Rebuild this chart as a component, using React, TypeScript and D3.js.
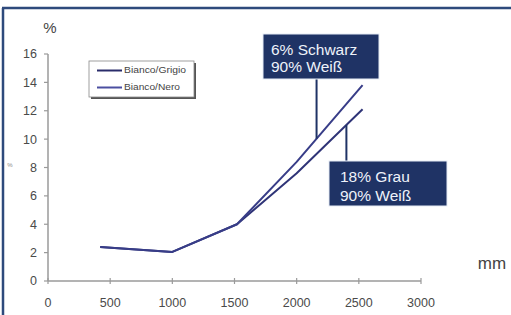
import React from "react";
import * as d3 from "d3";

const xTicks = [0, 500, 1000, 1500, 2000, 2500, 3000];
const yTicks = [0, 2, 4, 6, 8, 10, 12, 14, 16];
const xValues = [420, 1000, 1520, 2000, 2530];
const grigio = [2.4, 2.05, 4.0, 7.6, 12.1];
const nero = [2.4, 2.05, 4.0, 8.4, 13.8];
const seriesNames = ["Bianco/Grigio", "Bianco/Nero"];
const annoTop = ["6% Schwarz", "90% Weiß"];
const annoBottom = ["18% Grau", "90% Weiß"];
const annoTopAnchor = { x: 2160 };
const annoBottomAnchor = { x: 2400 };

const W = 511;
const H = 315;

export default function App() {
  const x = d3.scaleLinear().domain([0, 3000]).range([48, 421]);
  const y = d3.scaleLinear().domain([0, 16]).range([281, 54]);
  const line = d3
    .line<number>()
    .x((_, i) => x(xValues[i]))
    .y((d) => y(d))
    .curve(d3.curveLinear);

  const interp = (vals: number[], xv: number) => {
    for (let i = 0; i < xValues.length - 1; i++) {
      if (xv >= xValues[i] && xv <= xValues[i + 1]) {
        const t = (xv - xValues[i]) / (xValues[i + 1] - xValues[i]);
        return vals[i] + t * (vals[i + 1] - vals[i]);
      }
    }
    return vals[vals.length - 1];
  };

  const navy = "#1f3365";
  const axisColor = "#9a9a9a";
  const font = "Liberation Sans, Arial, sans-serif";

  const ax1 = x(annoTopAnchor.x);
  const ay1 = y(interp(nero, annoTopAnchor.x));
  const ax2 = x(annoBottomAnchor.x);
  const ay2 = y(interp(grigio, annoBottomAnchor.x));

  return (
    <svg
      width={W}
      height={H}
      style={{ position: "absolute", left: 0, top: 0, background: "#fff" }}
      fontFamily={font}
    >
      <rect x={0} y={0} width={W} height={H} fill="#fff" />
      {/* frame */}
      <line x1={2} x2={W} y1={8} y2={8} stroke="#2e4a7c" strokeWidth={2.5} />
      <line x1={3} x2={3} y1={8} y2={H} stroke="#2e4a7c" strokeWidth={2.5} />

      {/* axes */}
      <line x1={x(0)} x2={x(0)} y1={y(16)} y2={y(0)} stroke={axisColor} strokeWidth={1.5} />
      <line x1={x(0)} x2={x(3000)} y1={y(0)} y2={y(0)} stroke={axisColor} strokeWidth={1.5} />
      {yTicks.map((t) => (
        <g key={"y" + t}>
          <line x1={x(0) - 4} x2={x(0)} y1={y(t)} y2={y(t)} stroke={axisColor} strokeWidth={1.2} />
          <text x={37} y={y(t)} dy="0.35em" textAnchor="end" fontSize={12.5} fill="#4a4a4a">
            {t}
          </text>
        </g>
      ))}
      {xTicks.map((t) => (
        <g key={"x" + t}>
          <line x1={x(t)} x2={x(t)} y1={y(0) - 3} y2={y(0) + 3} stroke={axisColor} strokeWidth={1.2} />
          <text x={x(t)} y={303} dy="0.35em" textAnchor="middle" fontSize={12.5} fill="#4a4a4a">
            {t}
          </text>
        </g>
      ))}
      <text x={50} y={28} dy="0.35em" textAnchor="middle" fontSize={15} fill="#444">
        %
      </text>
      <text x={10} y={165} dy="0.35em" textAnchor="middle" fontSize={6} fill="#888">
        %
      </text>
      <text x={492} y={263} dy="0.35em" textAnchor="middle" fontSize={17} fill="#444">
        mm
      </text>

      {/* legend */}
      <rect x={91} y={63} width={105} height={36} fill="#555" />
      <rect x={89} y={61} width={105} height={36} fill="#fff" stroke="#888" strokeWidth={0.8} />
      <line x1={97} x2={122} y1={70.5} y2={70.5} stroke="#2a2c6a" strokeWidth={2} />
      <line x1={97} x2={122} y1={87.5} y2={87.5} stroke="#4b4fa0" strokeWidth={2} />
      <text x={124} y={70.5} dy="0.35em" fontSize={8.5} fill="#444" textLength={62} lengthAdjust="spacingAndGlyphs">
        {seriesNames[0]}
      </text>
      <text x={124} y={87.5} dy="0.35em" fontSize={8.5} fill="#444" textLength={56} lengthAdjust="spacingAndGlyphs">
        {seriesNames[1]}
      </text>

      {/* series */}
      <path d={line(grigio) || ""} fill="none" stroke="#2f3477" strokeWidth={2} strokeLinejoin="round" />
      <path d={line(nero) || ""} fill="none" stroke="#383d88" strokeWidth={2} strokeLinejoin="round" />

      {/* annotations */}
      <line x1={ax1} x2={ax1} y1={79} y2={ay1} stroke={navy} strokeWidth={2} />
      <line x1={ax2} x2={ax2} y1={ay2} y2={161} stroke={navy} strokeWidth={2} />
      <rect x={263} y={34} width={116} height={45} fill={navy} stroke="#e6ecf5" strokeWidth={1} />
      <text x={271} y={50} dy="0.35em" fontSize={15.5} fill="#eef2fa">
        {annoTop[0]}
      </text>
      <text x={271} y={67} dy="0.35em" fontSize={15.5} fill="#eef2fa">
        {annoTop[1]}
      </text>
      <rect x={329} y={161} width={118} height={45} fill={navy} stroke="#e6ecf5" strokeWidth={1} />
      <text x={340} y={177} dy="0.35em" fontSize={15.5} fill="#eef2fa">
        {annoBottom[0]}
      </text>
      <text x={340} y={196} dy="0.35em" fontSize={15.5} fill="#eef2fa">
        {annoBottom[1]}
      </text>
    </svg>
  );
}
